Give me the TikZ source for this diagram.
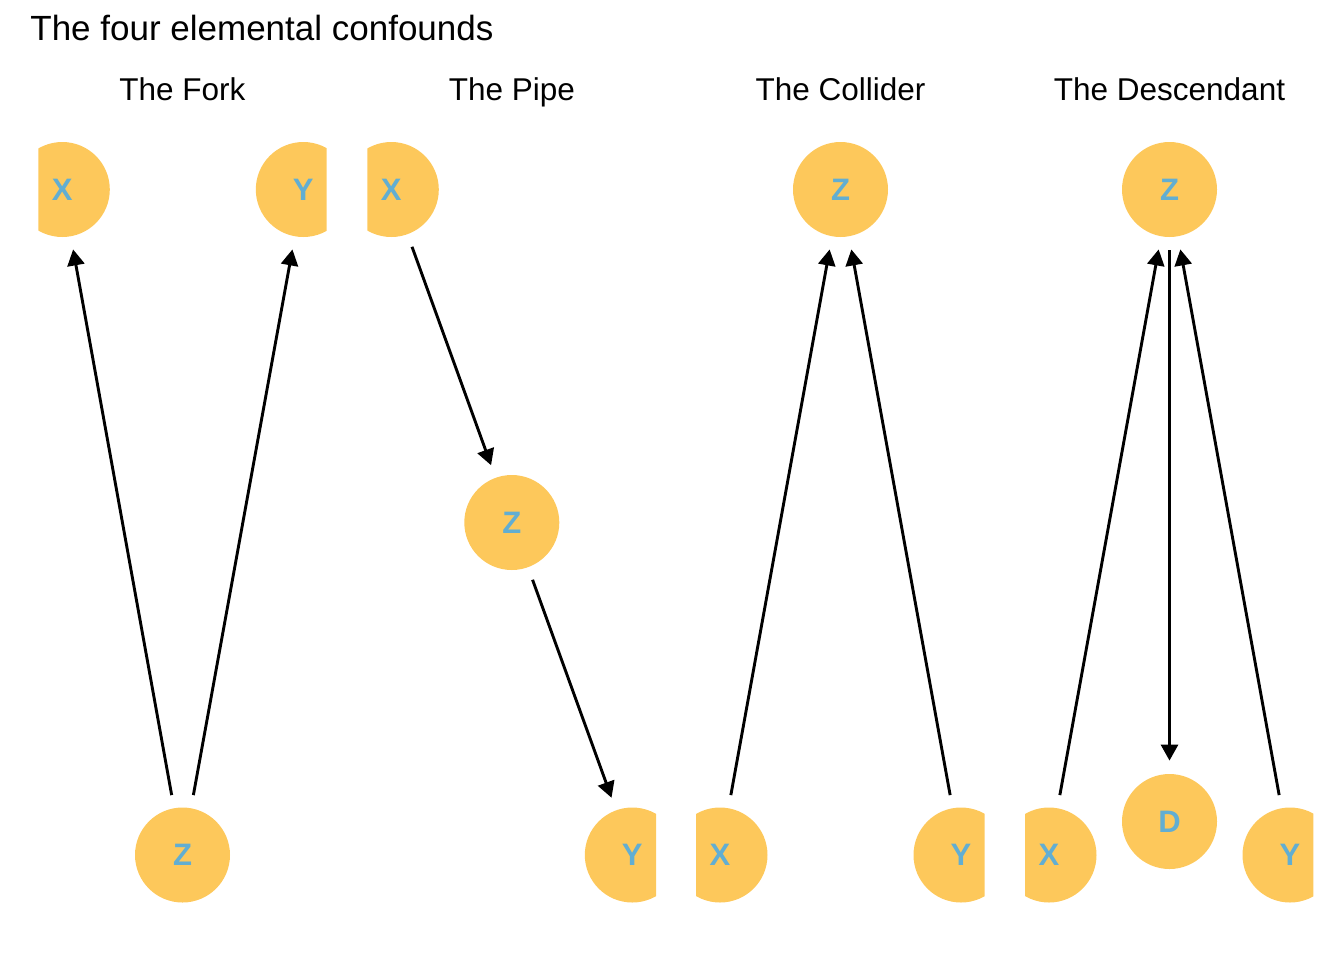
\documentclass[tikz,border=0pt]{standalone}
\usepackage{fontspec}
\setmainfont{Liberation Sans}
\usetikzlibrary{arrows.meta}
\definecolor{nodefill}{HTML}{FDC85B}
\definecolor{nodetext}{HTML}{62AED2}
\tikzset{
  var/.style={circle, fill=nodefill, minimum size=47.5pt, inner sep=0pt,
    text=nodetext, font=\fontsize{15.5}{15.5}\selectfont\bfseries},
  edge/.style={line width=1.45pt, -{Triangle[length=8pt,width=8.5pt]},
    shorten <=6.5pt, shorten >=6.5pt},
  striptitle/.style={anchor=base, inner sep=0pt, font=\fontsize{15.75}{16}\selectfont},
  maintitle/.style={anchor=base west, inner sep=0pt, font=\fontsize{17.5}{18}\selectfont}
}
\begin{document}
\begin{tikzpicture}[x=0.5pt,y=-0.5pt]
\useasboundingbox (0,0) rectangle (1344,960);
\node[maintitle] (title) at (30,40) {The four elemental confounds};
\node[striptitle] (t1) at (182.5,100) {The Fork};
\node[striptitle] (t2) at (511.8,100) {The Pipe};
\node[striptitle] (t3) at (840.5,100) {The Collider};
\node[striptitle] (t4) at (1169.5,100) {The Descendant};
% Fork
\begin{scope}
\clip (38.3,120) rectangle (326.7,940);
\node[var] (fx) at (62.3,189.5) {X};
\node[var] (fy) at (303.3,189.5) {Y};
\node[var] (fz) at (182.5,855) {Z};
\draw[edge] (fz) -- (fx);
\draw[edge] (fz) -- (fy);
\end{scope}
% Pipe
\begin{scope}
\clip (367.3,120) rectangle (656,940);
\node[var] (px) at (391.3,189.5) {X};
\node[var] (pz) at (511.8,522.5) {Z};
\node[var] (py) at (632.3,855) {Y};
\draw[edge] (px) -- (pz);
\draw[edge] (pz) -- (py);
\end{scope}
% Collider
\begin{scope}
\clip (696,120) rectangle (984.6,940);
\node[var] (cx) at (720,855) {X};
\node[var] (cz) at (840.5,189.5) {Z};
\node[var] (cy) at (961,855) {Y};
\draw[edge] (cx) -- (cz);
\draw[edge] (cy) -- (cz);
\end{scope}
% Descendant
\begin{scope}
\clip (1025,120) rectangle (1313.4,940);
\node[var] (dx) at (1049,855) {X};
\node[var] (dz) at (1169.5,189.5) {Z};
\node[var] (dd) at (1169.5,821.5) {D};
\node[var] (dy) at (1290,855) {Y};
\draw[edge] (dx) -- (dz);
\draw[edge] (dy) -- (dz);
\draw[edge] (dz) -- (dd);
\end{scope}
\end{tikzpicture}
\end{document}
